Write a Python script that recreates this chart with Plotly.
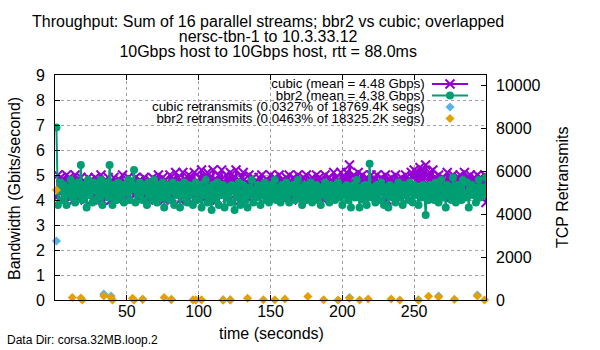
import plotly.graph_objects as go

# ---------------- data ----------------
time_s = list(range(1, 301))

cubic_gbps = [
    4.1, 5.0, 4.3, 4.9, 4.0, 4.8, 4.2, 5.0, 4.4, 4.9, 4.1, 4.7, 4.0, 5.0, 4.3, 4.8, 4.1, 4.9, 4.2, 4.7,
    4.0, 4.6, 4.9, 4.2, 4.8, 4.0, 4.5, 4.9, 4.1, 4.7, 4.3, 5.0, 4.0, 4.6, 4.8, 4.1, 4.9, 4.3, 4.0, 4.7,
    4.9, 4.2, 4.6, 4.0, 4.8, 4.4, 5.0, 4.1, 4.7, 4.3, 4.9, 4.0, 4.6, 4.8, 4.2, 4.9, 4.1, 4.5, 4.8, 4.0,
    4.7, 4.9, 4.2, 4.6, 4.0, 4.8, 4.4, 4.9, 4.1, 4.7, 4.3, 5.0, 4.2, 4.6, 4.9, 4.0, 4.8, 4.3, 4.6, 5.0,
    4.1, 4.8, 4.4, 5.1, 4.2, 4.9, 4.0, 4.7, 5.1, 4.3, 4.8, 4.1, 5.0, 4.5, 4.9, 4.2, 5.1, 4.4, 4.7, 4.0,
    4.9, 5.2, 4.3, 4.8, 4.1, 5.1, 4.6, 4.9, 4.2, 5.2, 4.4, 4.8, 4.0, 5.0, 4.6, 5.2, 4.3, 4.7, 5.0, 4.1,
    4.8, 5.1, 4.4, 4.9, 4.2, 5.2, 4.5, 4.8, 4.0, 4.9, 5.1, 4.3, 4.7, 4.1, 5.0, 4.6, 4.2, 4.9, 4.4, 4.7,
    4.1, 4.9, 4.5, 5.0, 4.2, 4.7, 4.0, 4.8, 4.4, 5.0, 4.3, 4.6, 4.9, 4.1, 4.7, 5.0, 4.2, 4.8, 4.5, 4.0,
    4.9, 4.3, 5.0, 4.1, 4.7, 4.9, 4.2, 4.6, 5.0, 4.0, 4.8, 4.4, 4.9, 4.2, 5.0, 4.5, 4.1, 4.8, 4.9, 4.3,
    4.7, 5.0, 4.2, 4.9, 4.4, 4.8, 4.0, 5.0, 4.6, 4.3, 4.9, 4.1, 4.7, 5.1, 4.4, 4.9, 4.2, 4.8, 5.1, 4.3,
    4.9, 4.6, 5.1, 4.8, 5.4, 4.7, 4.2, 5.0, 4.9, 4.4, 5.1, 4.3, 4.8, 5.0, 4.1, 4.7, 4.9, 4.3, 4.6, 5.0,
    4.2, 4.8, 4.5, 5.0, 4.1, 4.7, 4.9, 4.3, 4.6, 5.0, 4.0, 4.8, 4.4, 4.9, 4.2, 4.7, 5.0, 4.3, 4.8, 4.1,
    4.9, 4.4, 4.7, 5.0, 4.2, 4.8, 4.5, 5.1, 4.9, 5.2, 4.6, 5.1, 4.8, 5.3, 4.7, 5.2, 4.9, 5.4, 5.0, 4.6,
    5.1, 4.8, 5.2, 4.4, 4.9, 4.2, 5.0, 4.7, 4.3, 4.9, 4.1, 4.8, 5.1, 4.4, 4.9, 4.2, 5.0, 4.6, 4.8, 4.1,
    4.9, 5.0, 4.3, 4.8, 5.1, 4.2, 4.9, 4.6, 5.0, 4.4, 4.8, 4.9, 4.3, 5.0, 4.5, 4.9, 4.2, 4.8, 5.0, 3.9,
]

bbr2_gbps = [
    6.9, 3.8, 4.4, 4.7, 4.0, 4.6, 4.2, 3.8, 4.5, 4.3, 4.8, 4.1, 4.6, 3.9, 4.4, 4.7, 4.2, 5.4, 4.0, 4.6,
    4.3, 3.7, 4.8, 4.2, 4.5, 3.9, 4.7, 4.4, 4.0, 4.6, 4.2, 4.8, 3.8, 4.5, 4.3, 4.7, 4.1, 5.4, 4.4, 3.8,
    4.6, 4.3, 4.0, 4.7, 4.4, 4.1, 4.6, 3.9, 4.5, 4.3, 4.8, 4.0, 4.4, 4.6, 5.2, 3.9, 4.5, 4.2, 4.7, 4.3,
    4.0, 4.6, 4.4, 3.8, 4.7, 4.2, 4.5, 4.0, 4.8, 4.3, 3.9, 4.6, 4.4, 4.1, 4.7, 3.7, 4.5, 4.2, 4.6, 4.0,
    4.4, 4.7, 3.8, 4.5, 4.2, 4.6, 3.7, 4.4, 4.1, 4.7, 4.3, 3.9, 4.6, 4.2, 4.5, 3.8, 4.4, 4.7, 4.0, 4.3,
    4.6, 3.7, 4.4, 4.2, 4.8, 3.9, 4.5, 4.1, 3.6, 4.6, 4.3, 4.0, 4.7, 3.8, 4.4, 4.2, 4.6, 3.7, 4.5, 4.1,
    4.3, 3.9, 4.6, 4.4, 3.6, 4.5, 4.1, 4.7, 3.8, 4.3, 4.6, 4.0, 4.4, 3.7, 4.5, 4.2, 4.8, 3.9, 4.4, 4.1,
    4.6, 4.3, 3.8, 4.5, 4.2, 4.7, 4.0, 4.4, 3.9, 4.6, 4.3, 4.1, 4.8, 4.0, 4.5, 4.2, 3.9, 4.6, 4.4, 4.1,
    4.7, 4.2, 3.9, 4.5, 4.3, 4.6, 4.0, 4.4, 4.8, 4.1, 4.5, 3.8, 4.3, 4.6, 4.0, 4.4, 4.2, 4.7, 3.9, 4.5,
    4.2, 4.6, 4.0, 4.4, 3.8, 4.5, 4.3, 4.7, 4.1, 4.4, 3.9, 4.6, 4.2, 4.5, 4.0, 4.3, 4.7, 4.1, 4.4, 3.8,
    4.5, 4.2, 4.6, 4.0, 4.3, 3.7, 4.4, 4.6, 4.1, 4.8, 4.2, 3.7, 4.5, 4.3, 4.0, 4.6, 3.8, 4.4, 5.45, 4.1,
    4.5, 4.2, 3.9, 4.6, 4.3, 4.0, 4.7, 4.4, 3.8, 4.5, 4.2, 3.7, 4.6, 4.3, 4.1, 4.5, 3.9, 4.4, 4.7, 4.1,
    4.4, 3.8, 4.6, 4.2, 4.5, 4.0, 4.7, 4.3, 3.9, 4.6, 4.2, 4.4, 3.8, 4.5, 4.1, 4.6, 4.3, 3.4, 4.4, 4.0,
    4.6, 4.2, 4.5, 4.0, 4.7, 4.3, 3.9, 4.5, 4.8, 4.1, 4.4, 3.7, 4.6, 4.2, 4.5, 4.0, 4.9, 4.3, 3.9, 4.6,
    4.2, 4.5, 4.0, 4.8, 4.3, 4.1, 4.7, 3.7, 4.4, 4.6, 4.2, 4.5, 3.9, 4.4, 4.8, 4.1, 4.5, 4.3, 4.2, 4.9,
]

cubic_retrans_t = [1, 34, 39, 61, 81, 117, 122, 205, 253, 267, 294]
cubic_retrans = [2750, 280, 190, 30, 10, 5, 5, 120, 5, 190, 230]

bbr2_retrans_t = [1, 12, 18, 19, 34, 39, 40, 54, 55, 61, 76, 81, 96, 98, 102, 117, 122, 134, 145, 153,
                  160, 176, 187, 197, 205, 212, 218, 234, 240, 253, 260, 267, 278, 294, 299]
bbr2_retrans = [5130, 120, 90, 0, 190, 120, 0, 80, 0, 30, 120, 30, 5, 5, 10, 5, 5, 80, 10, 10,
                50, 160, 10, 0, 80, 0, 50, 50, 0, 0, 170, 140, 30, 190, 0]

x_ticks = [50, 100, 150, 200, 250]
y_ticks = list(range(0, 10))
y2_ticks = [0, 2000, 4000, 6000, 8000, 10000]

legend_labels = [
    "cubic (mean = 4.48 Gbps)",
    "bbr2 (mean = 4.38 Gbps)",
    "cubic retransmits (0.0327% of 18769.4K segs)",
    "bbr2 retransmits (0.0463% of 18325.2K segs)",
]
title_lines = [
    "Throughput: Sum of 16 parallel streams; bbr2 vs cubic; overlapped",
    "nersc-tbn-1 to 10.3.33.12",
    "10Gbps host to 10Gbps host, rtt = 88.0ms",
]

# ---------------- style ----------------
C_CUBIC = "#9400d3"
C_BBR2 = "#009e73"
C_CRT = "#56b4e9"
C_BRT = "#e69f00"
FONT = "Liberation Sans, Arial, sans-serif"

fig = go.Figure()

fig.add_trace(go.Scatter(
    x=time_s, y=cubic_gbps, mode="lines+markers",
    line=dict(color=C_CUBIC, width=2),
    marker=dict(symbol="x-thin", size=9, line=dict(color=C_CUBIC, width=2)),
    showlegend=False,
))
fig.add_trace(go.Scatter(
    x=time_s, y=bbr2_gbps, mode="lines+markers",
    line=dict(color=C_BBR2, width=2),
    marker=dict(symbol="circle", size=8, color=C_BBR2),
    showlegend=False,
))
fig.add_trace(go.Scatter(
    x=cubic_retrans_t, y=cubic_retrans, mode="markers", yaxis="y2",
    marker=dict(symbol="diamond", size=7, color=C_CRT),
    cliponaxis=False, showlegend=False,
))
fig.add_trace(go.Scatter(
    x=bbr2_retrans_t, y=bbr2_retrans, mode="markers", yaxis="y2",
    marker=dict(symbol="diamond", size=7, color=C_BRT),
    cliponaxis=False, showlegend=False,
))

# ---------- gnuplot-style key (text left of samples) on a helper axis ----------
L, R, T, B = 55, 114, 75, 50
PW, PH = 600 - L - R, 350 - T - B


def px(xp):
    return (xp - L) / PW


def py(yp):
    return (350 - B - yp) / PH


KEY_STEP = 11.5
key_rows = [84 + i * KEY_STEP for i in range(4)]
sx0, sxm, sx1 = px(432), px(450), px(468)
key_styles = [
    dict(line=True, symbol="x-thin", color=C_CUBIC, size=9),
    dict(line=True, symbol="circle", color=C_BBR2, size=8),
    dict(line=False, symbol="diamond", color=C_CRT, size=7),
    dict(line=False, symbol="diamond", color=C_BRT, size=7),
]
for row, st in zip(key_rows, key_styles):
    yy = py(row)
    if st["line"]:
        fig.add_trace(go.Scatter(
            x=[sx0, sx1], y=[yy, yy], mode="lines", xaxis="x3", yaxis="y3",
            line=dict(color=st["color"], width=2), showlegend=False, hoverinfo="skip",
        ))
    fig.add_trace(go.Scatter(
        x=[sxm], y=[yy], mode="markers", xaxis="x3", yaxis="y3",
        marker=dict(symbol=st["symbol"], size=st["size"], color=st["color"],
                    line=dict(color=st["color"], width=2 if st["symbol"] == "x-thin" else 0)),
        showlegend=False, hoverinfo="skip",
    ))

# key text as one block: base font sets the (tight, gnuplot-like) line pitch
key_text = "<br>".join('<span style="font-size:13.3px">%s</span>' % s for s in legend_labels)
fig.add_annotation(x=px(426), y=py((key_rows[0] + key_rows[-1]) / 2), xref="paper", yref="paper",
                   text=key_text, showarrow=False, xanchor="right", yanchor="middle",
                   align="right", borderpad=0,
                   font=dict(size=KEY_STEP / 1.3, color="black", family=FONT))

# opaque key background
fig.add_shape(type="rect", xref="paper", yref="paper",
              x0=px(148), x1=px(477), y0=py(126), y1=1.0,
              fillcolor="white", line=dict(width=0), layer="between")

# title block (3 lines, 15px pitch)
TITLE_STEP = 15
title_text = "<br>".join('<span style="font-size:16px">%s</span>' % s for s in title_lines)
fig.add_annotation(x=px(268), y=py(36), xref="paper", yref="paper", text=title_text,
                   showarrow=False, xanchor="center", yanchor="middle", align="center",
                   borderpad=0, font=dict(size=TITLE_STEP / 1.3, color="black", family=FONT))

fig.add_annotation(x=px(14), y=py(189), xref="paper", yref="paper",
                   text="Bandwidth (Gbits/second)", textangle=-90, showarrow=False,
                   xanchor="center", yanchor="middle", font=dict(size=16, color="black", family=FONT))
fig.add_annotation(x=px(562), y=py(187), xref="paper", yref="paper",
                   text="TCP Retransmits", textangle=-90, showarrow=False,
                   xanchor="center", yanchor="middle", font=dict(size=16, color="black", family=FONT))
fig.add_annotation(x=px(271), y=py(333), xref="paper", yref="paper",
                   text="time (seconds)", showarrow=False,
                   xanchor="center", yanchor="middle", font=dict(size=16, color="black", family=FONT))
fig.add_annotation(x=px(5), y=py(340), xref="paper", yref="paper",
                   text="Data Dir: corsa.32MB.loop.2", showarrow=False,
                   xanchor="left", yanchor="middle", font=dict(size=12, color="black", family=FONT))

grid = dict(showgrid=True, gridcolor="#a0a0a0", griddash="dot", gridwidth=1)

fig.update_layout(
    width=600, height=350,
    margin=dict(l=L, r=R, t=T, b=B, pad=0),
    paper_bgcolor="white", plot_bgcolor="white",
    font=dict(family=FONT, size=16, color="black"),
    showlegend=False,
    xaxis=dict(range=[0, 300], tickvals=x_ticks, ticks="inside", ticklen=5,
               tickcolor="black", showline=True, linecolor="black", linewidth=1,
               mirror="ticks", zeroline=False, ticklabelstandoff=-3, **grid),
    yaxis=dict(range=[0, 9], tickvals=y_ticks, ticks="inside", ticklen=5,
               tickcolor="black", showline=True, linecolor="black", linewidth=1,
               mirror=True, zeroline=False, ticklabelstandoff=6, **grid),
    yaxis2=dict(range=[0, 10500], tickvals=y2_ticks, tickformat="d", overlaying="y", side="right",
                ticks="inside", ticklen=5, tickcolor="black", showgrid=False,
                zeroline=False, showline=False, ticklabelstandoff=9),
    xaxis3=dict(range=[0, 1], overlaying="x", visible=False, anchor="y3"),
    yaxis3=dict(range=[0, 1], overlaying="y", visible=False, anchor="x3"),
)

fig.write_html("out.html")
